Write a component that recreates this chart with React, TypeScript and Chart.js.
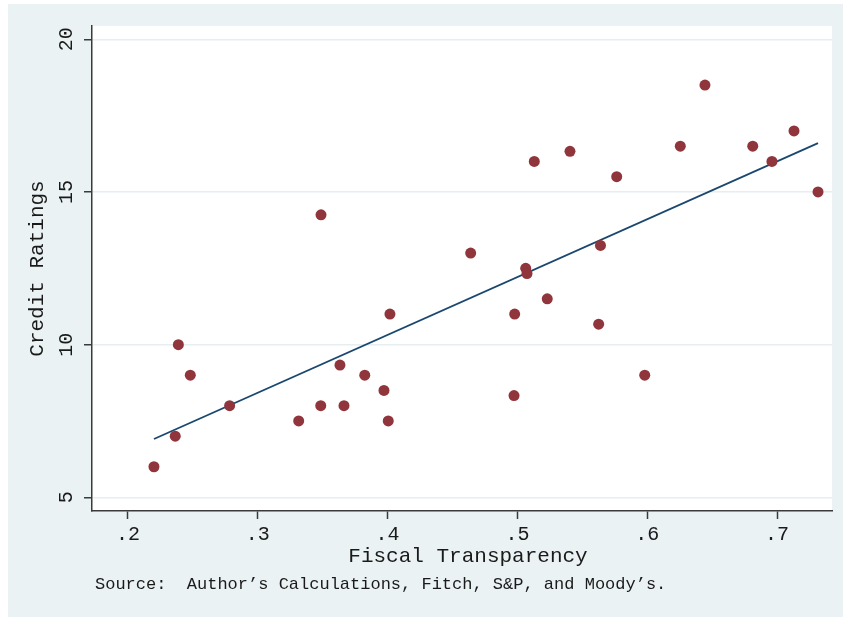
import React, { useEffect, useRef } from "react";
import { Chart, registerables } from "chart.js";

Chart.register(...registerables);

// Fiscal transparency index vs. average sovereign credit rating
const transparency = [
  0.22, 0.2364, 0.2388, 0.248, 0.2783, 0.3315, 0.3485, 0.3487, 0.3633, 0.3664,
  0.3824, 0.3972, 0.4005, 0.4018, 0.464, 0.4974, 0.4979, 0.5064, 0.5074, 0.513,
  0.523, 0.5405, 0.5626, 0.564, 0.5765, 0.5981, 0.6255, 0.6445, 0.6813, 0.6961,
  0.7131, 0.7316,
];
const ratings = [
  6, 7, 10, 9, 8, 7.5, 8, 14.25, 9.33, 8,
  9, 8.5, 7.5, 11, 13, 8.33, 11, 12.5, 12.33, 16,
  11.5, 16.33, 10.67, 13.25, 15.5, 9, 16.5, 18.5, 16.5, 16,
  17, 15,
];

// Linear fit endpoints
const fitX = [0.22, 0.7316];
const fitY = [6.91, 16.6];

const xTicks = [0.2, 0.3, 0.4, 0.5, 0.6, 0.7];
const xTickLabels = [".2", ".3", ".4", ".5", ".6", ".7"];
const yTicks = [5, 10, 15, 20];
const yTickLabels = ["5", "10", "15", "20"];

const xTitle = "Fiscal Transparency";
const yTitle = "Credit Ratings";
const noteText = "Source:  Author\u2019s Calculations, Fitch, S&P, and Moody\u2019s.";

const FONT = "'Liberation Mono', 'Courier New', monospace";
const TEXT = "#1a1a1a";
const W = 835;
const H = 613;

const decorations = {
  id: "decorations",
  beforeDraw(chart: any) {
    const { ctx, chartArea } = chart;
    ctx.save();
    ctx.fillStyle = "#eaf2f3";
    ctx.fillRect(0, 0, chart.width, chart.height);
    ctx.fillStyle = "#ffffff";
    ctx.fillRect(
      chartArea.left,
      chartArea.top,
      chartArea.right - chartArea.left,
      chartArea.bottom - chartArea.top
    );
    ctx.restore();
  },
  afterDraw(chart: any) {
    const { ctx, chartArea } = chart;
    const xs = chart.scales.x;
    const ys = chart.scales.y;
    ctx.save();
    ctx.fillStyle = TEXT;

    // x tick labels
    ctx.font = `20px ${FONT}`;
    ctx.textAlign = "center";
    ctx.textBaseline = "alphabetic";
    xTicks.forEach((v, i) => {
      ctx.fillText(xTickLabels[i], xs.getPixelForValue(v), 536);
    });

    // y tick labels, rotated
    yTicks.forEach((v, i) => {
      ctx.save();
      ctx.translate(64, ys.getPixelForValue(v));
      ctx.rotate(-Math.PI / 2);
      ctx.fillText(yTickLabels[i], 0, 0);
      ctx.restore();
    });

    // axis titles
    ctx.font = `21px ${FONT}`;
    ctx.fillText(xTitle, 460, 558);
    ctx.save();
    ctx.translate(34.5, (chartArea.top + chartArea.bottom) / 2);
    ctx.rotate(-Math.PI / 2);
    ctx.fillText(yTitle, 0, 0);
    ctx.restore();

    // note
    ctx.font = `17px ${FONT}`;
    ctx.textAlign = "left";
    ctx.fillText(noteText, 87, 585);
    ctx.restore();
  },
};

export default function App() {
  const ref = useRef<HTMLCanvasElement | null>(null);

  useEffect(() => {
    if (!ref.current) return;
    const chart = new Chart(ref.current, {
      type: "scatter",
      data: {
        datasets: [
          {
            label: "Credit Ratings",
            data: transparency.map((x, i) => ({ x, y: ratings[i] })),
            backgroundColor: "#90353b",
            borderWidth: 0,
            pointRadius: 5.5,
            pointHoverRadius: 5.5,
            order: 1,
          },
          {
            label: "Fitted values",
            type: "line",
            data: fitX.map((x, i) => ({ x, y: fitY[i] })),
            borderColor: "#1a476f",
            borderWidth: 1.8,
            pointRadius: 0,
            fill: false,
            order: 2,
          },
        ],
      },
      options: {
        responsive: false,
        animation: false,
        devicePixelRatio: 1,
        layout: { padding: { top: 22, right: 11, left: 0, bottom: 0 } },
        plugins: {
          legend: { display: false },
          tooltip: { enabled: false },
        },
        scales: {
          x: {
            type: "linear",
            min: 0.17227,
            max: 0.74237,
            afterBuildTicks: (s: any) => {
              s.ticks = xTicks.map((value) => ({ value }));
            },
            afterFit: (s: any) => {
              s.height = H - 507;
            },
            ticks: { display: false },
            grid: {
              drawOnChartArea: false,
              drawTicks: true,
              tickLength: 8,
              tickColor: "#3a3a3a",
              tickWidth: 1.5,
            },
            border: { display: true, color: "#3a3a3a", width: 1.5 },
          },
          y: {
            type: "linear",
            min: 4.551,
            max: 20.436,
            afterBuildTicks: (s: any) => {
              s.ticks = yTicks.map((value) => ({ value }));
            },
            afterFit: (s: any) => {
              s.width = 84;
            },
            ticks: { display: false },
            grid: {
              color: "#e6eef1",
              lineWidth: 1.5,
              drawTicks: true,
              tickLength: 8,
              tickColor: "#3a3a3a",
              tickWidth: 1.5,
            },
            border: { display: true, color: "#3a3a3a", width: 1.5 },
          },
        },
      },
      plugins: [decorations],
    });
    return () => chart.destroy();
  }, []);

  return (
    <canvas
      ref={ref}
      width={W}
      height={H}
      style={{
        position: "absolute",
        left: 8,
        top: 4,
        width: W,
        height: H,
        display: "block",
      }}
    />
  );
}
